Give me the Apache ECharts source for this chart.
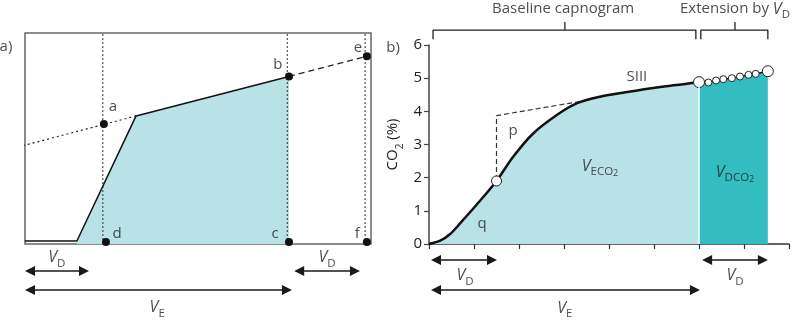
<!DOCTYPE html>
<html><head><meta charset="utf-8">
<script src="https://cdn.jsdelivr.net/npm/echarts@6/dist/echarts.min.js"></script>
<style>html,body{margin:0;padding:0;background:#fff}#c{width:792px;height:320px}</style>
</head><body><div id="c"></div>
<script>
// ---------- Panel a (schematic units 0..100) ----------
const aCurve = [[0,1.4],[15,1.4],[32.1,60.7],[76.3,79.4]];
const aFill = [[15,1.4],[32.1,60.7],[76.3,79.4],[76.3,0]];
const aDotted = [[-2,46],[32.1,60.7]];
const aDashed = [[76.3,79.4],[98.8,89]];
const aVerticalX = [22.5, 75.8, 98.3];
const aPointX = [22.8, 76.3, 76.3, 23.4, 98.8, 98.8];
const aPointY = [56.9, 79.4, 1, 1, 89, 1];
const aLabelText = ['a','b','c','d','e','f','a)'];
const aLabelX = [25.4, 73.1, 72.3, 26.6, 96.2, 96.0, -5.5];
const aLabelY = [64.9, 84.8, 4.7, 4.7, 92.9, 4.7, 93.4];
const aArrows = [[[1.45,-12.8],[17.05,-12.8]], [[1.45,-21.8],[75.7,-21.8]], [[79.25,-12.8],[95.35,-12.8]]];
const aArrowLabelX = [9.2, 38.2, 87.3];
const aArrowLabelY = [-6.6, -30.3, -6.6];
const aArrowLabelSub = ['D','E','D'];

// ---------- Panel b (volume units, CO2 %) ----------
const bYTicks = [0,1,2,3,4,5,6];
const bCurve = [[0,0],[0.25,0.1],[0.47,0.3],[0.69,0.62],[1.1,1.25],[1.5,1.9],[1.87,2.63],[2.32,3.34],[2.84,3.89],[3.28,4.24],[3.8,4.44],[4.31,4.56],[5.06,4.72],[6.0,4.88]];
const bExt = [[6.0,4.88],[6.21,4.87],[6.38,4.93],[6.54,4.97],[6.73,5.0],[6.91,5.05],[7.1,5.1],[7.26,5.13],[7.53,5.21]];
const bDashed = [[1.5,0],[1.5,3.87],[3.76,4.39]];
const bMarker = [[1.5,1.9]];
const bSeparator = [[6.0,0],[6.0,4.88]];
const bBracket1 = [[0.09,6.17],[0.09,6.45],[5.93,6.45],[5.93,6.17]];
const bBracket1Tick = [[3.02,6.45],[3.02,6.69]];
const bBracket2 = [[6.04,6.17],[6.04,6.45],[7.53,6.45],[7.53,6.17]];
const bBracket2Tick = [[6.8,6.45],[6.8,6.69]];
const bArrows = [[[0.155,-0.48],[1.4,-0.48]], [[0.155,-1.39],[5.91,-1.39]], [[6.18,-0.48],[7.42,-0.48]]];
const bLabelText = ['{t|b)}','{t|p}','{t|q}','{t|SIII}','{i|V}{s|ECO}{ss|2}','{i|V}{s|DCO}{ss|2}','{i|V}{s|D}','{i|V}{s|E}','{i|V}{s|D}','{t|Baseline capnogram}','{t|Extension by }{i|V}{s|D}'];
const bLabelX = [-0.8, 1.87, 1.18, 4.62, 3.8, 6.8, 0.8, 3.02, 6.8, 2.98, 6.8];
const bLabelY = [5.93, 3.43, 0.6, 5.03, 2.35, 2.17, -0.96, -1.93, -0.96, 7.08, 7.08];

const FONT = 'Open Sans';
const TXT = '#222';
const LIGHT = '#b9e2e6', DARK = '#33bdc1', INK = '#111';
const rich = {
  t:{fontSize:15,color:TXT,fontFamily:FONT,lineHeight:24,verticalAlign:'middle'},
  i:{fontSize:16,color:TXT,fontFamily:FONT,fontStyle:'italic',lineHeight:24,verticalAlign:'middle'},
  s:{fontSize:11.5,color:TXT,fontFamily:FONT,lineHeight:12,verticalAlign:'bottom'},
  ss:{fontSize:9,color:TXT,fontFamily:FONT,lineHeight:6,verticalAlign:'bottom'},
  s2:{fontSize:10,color:TXT,fontFamily:FONT,lineHeight:10,verticalAlign:'bottom'}
};

function zip(xs, ys, texts) {
  return xs.map((x, k) => ({value:[x, ys[k]], label:{formatter: texts[k]}}));
}
function plain(arr, g, color, width, type, z) {
  return {type:'line', xAxisIndex:g, yAxisIndex:g, data:arr, showSymbol:false, symbol:'none', clip:false, silent:true,
    lineStyle:{color:color, width:width, type:type||'solid'}, z:z||3, animation:false};
}
function textSeries(g, items) {
  return {type:'scatter', xAxisIndex:g, yAxisIndex:g, symbolSize:0, clip:false, silent:true, animation:false, z:10,
    data:items, label:{show:true, position:'inside', rich:rich}};
}
function arrowSeries(g, arrs) {
  return {type:'lines', coordinateSystem:'cartesian2d', xAxisIndex:g, yAxisIndex:g, clip:false, silent:true, animation:false,
    symbol:['triangle','triangle'], symbolSize:10,
    lineStyle:{color:'#1a1a1a', width:1.6, opacity:1}, data:arrs.map(c => ({coords:c}))};
}

const series = [];
// Panel a
series.push({type:'line', xAxisIndex:0, yAxisIndex:0, data:aFill, showSymbol:false, symbol:'none', lineStyle:{width:0}, areaStyle:{color:LIGHT, opacity:1}, z:1, animation:false, silent:true});
series.push(plain(aCurve, 0, INK, 1.5));
series.push(plain(aDotted, 0, '#222', 1.2, [2,3]));
series.push(plain(aDashed, 0, '#222', 1.2, [6,4]));
aVerticalX.forEach(x => series.push(plain([[x,0],[x,100]], 0, '#333', 1, [2,2], 2)));
series.push({type:'scatter', xAxisIndex:0, yAxisIndex:0, data:aPointX.map((x,k)=>[x,aPointY[k]]), symbolSize:8, itemStyle:{color:'#111', opacity:1}, clip:false, z:6, animation:false, silent:true});
series.push(textSeries(0, zip(aLabelX, aLabelY, aLabelText.map(t => '{t|' + t + '}'))));
series.push(arrowSeries(0, aArrows));
series.push(textSeries(0, zip(aArrowLabelX, aArrowLabelY, aArrowLabelSub.map(s => '{i|V}{s|' + s + '}'))));

// Panel b
series.push({type:'line', xAxisIndex:1, yAxisIndex:1, data:bCurve, smooth:0.3, showSymbol:false, symbol:'none',
  lineStyle:{color:INK, width:2.5}, areaStyle:{color:LIGHT, opacity:1}, z:3, animation:false, silent:true});
series.push({type:'line', xAxisIndex:1, yAxisIndex:1, data:bExt, showSymbol:true, symbol:'circle',
  symbolSize:(v, p) => (p.dataIndex === 0 || p.dataIndex === bExt.length - 1) ? 11 : 7,
  itemStyle:{color:'#fff', borderColor:'#222', borderWidth:1, opacity:1}, lineStyle:{color:INK, width:1.5},
  areaStyle:{color:DARK, opacity:1}, z:4, animation:false, silent:true});
series.push(plain(bSeparator, 1, '#fff', 1.5, 'solid', 5));
series.push(plain(bDashed, 1, '#333', 1.2, [5,3], 2));
series.push({type:'scatter', xAxisIndex:1, yAxisIndex:1, data:bMarker, symbolSize:10, itemStyle:{color:'#fff', borderColor:'#222', borderWidth:1, opacity:1}, z:6, animation:false, silent:true});
[bBracket1, bBracket1Tick, bBracket2, bBracket2Tick].forEach(b => series.push(plain(b, 1, '#222', 1.3)));
series.push(arrowSeries(1, bArrows));
series.push(textSeries(1, zip(bLabelX, bLabelY, bLabelText)));

const option = {
  backgroundColor:'#fff',
  animation:false,
  grid:[
    {left:25, right:421, top:33, bottom:76, show:true, borderColor:'#666', borderWidth:1.5, backgroundColor:'transparent'},
    {left:429, right:3, top:45, bottom:76}
  ],
  xAxis:[
    {gridIndex:0, type:'value', min:0, max:100, show:false},
    {gridIndex:1, type:'value', min:0, max:8, interval:1,
      axisLine:{show:true, onZero:false, lineStyle:{color:'#333', width:1.5}},
      axisTick:{show:true, length:5, lineStyle:{color:'#333', width:1.2}},
      axisLabel:{show:false}, splitLine:{show:false}}
  ],
  yAxis:[
    {gridIndex:0, type:'value', min:0, max:100, show:false},
    {gridIndex:1, type:'value', min:0, max:6, interval:1,
      axisLine:{show:true, onZero:false, lineStyle:{color:'#444', width:1.5}},
      axisTick:{show:true, length:5, lineStyle:{color:'#444', width:1.2}},
      axisLabel:{show:true, fontSize:15, color:TXT, fontFamily:FONT, margin:7, formatter:v => bYTicks.includes(v) ? String(v) : ''},
      splitLine:{show:false},
      name:'{t|CO}{s2|2}{t| (%)}', nameLocation:'middle', nameRotate:90, nameGap:24,
      nameTextStyle:{rich:rich}}
  ],
  series:series
};
const chart = echarts.init(document.getElementById('c'));
chart.setOption(option);
</script></body></html>
